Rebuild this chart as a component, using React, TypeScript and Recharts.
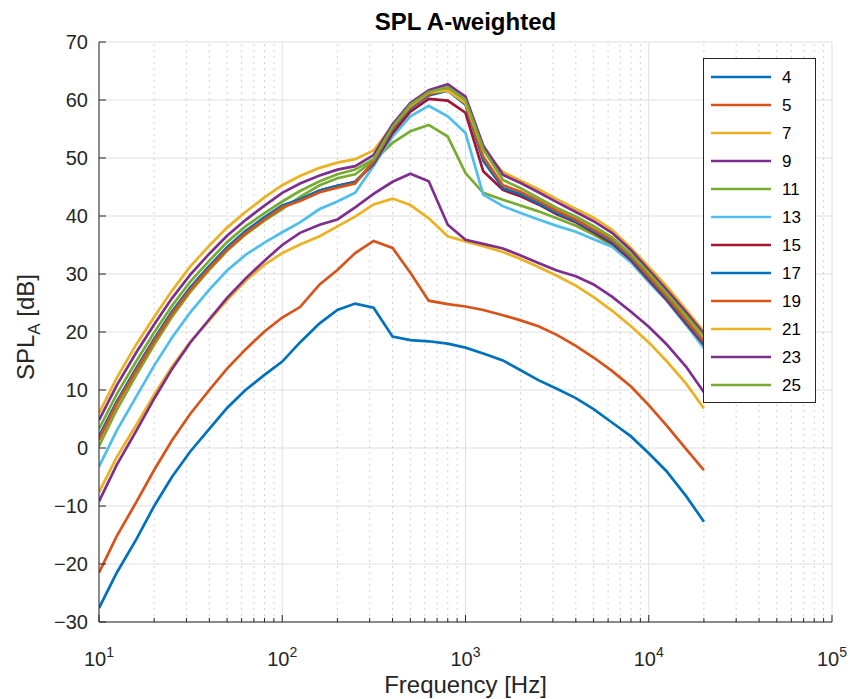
import React from 'react';
import { LineChart, Line, XAxis, YAxis, CartesianGrid, ReferenceLine } from 'recharts';

// Third-octave band centre frequencies [Hz]
const FREQ = [10, 12.5, 16, 20, 25, 31.5, 40, 50, 63, 80, 100, 125, 160, 200, 250, 315, 400, 500, 630, 800, 1000, 1250, 1600, 2000, 2500, 3150, 4000, 5000, 6300, 8000, 10000, 12500, 16000, 20000];

// A-weighted SPL per series [dB]
const S4 = [-27.6, -21.5, -15.7, -10.0, -5.0, -0.6, 3.3, 6.9, 10.0, 12.6, 14.9, 18.2, 21.5, 23.8, 24.9, 24.2, 19.2, 18.6, 18.4, 18.0, 17.3, 16.3, 15.1, 13.4, 11.7, 10.2, 8.6, 6.7, 4.4, 2.0, -0.9, -4.0, -8.3, -12.7];
const S5 = [-21.5, -15.2, -9.3, -3.8, 1.3, 5.9, 10.0, 13.7, 17.0, 20.1, 22.5, 24.3, 28.2, 30.7, 33.6, 35.7, 34.5, 30.2, 25.4, 24.8, 24.4, 23.8, 22.9, 22.0, 21.0, 19.5, 17.6, 15.6, 13.3, 10.6, 7.4, 3.9, -0.2, -3.8];
const S7 = [-7.6, -1.6, 4.0, 9.2, 14.0, 18.3, 22.0, 25.5, 28.8, 31.6, 33.6, 35.1, 36.5, 38.2, 39.9, 42.0, 43.0, 41.9, 39.6, 36.5, 35.6, 34.8, 33.8, 32.6, 31.2, 29.7, 28.0, 26.0, 23.7, 21.0, 18.2, 15.0, 11.1, 6.8];
const S9 = [-9.2, -2.9, 3.0, 8.5, 13.6, 18.2, 22.2, 25.9, 29.2, 32.3, 35.0, 37.1, 38.5, 39.4, 41.5, 43.8, 45.9, 47.3, 46.0, 38.5, 35.9, 35.2, 34.4, 33.2, 31.9, 30.6, 29.6, 28.2, 26.1, 23.5, 20.9, 17.9, 14.0, 9.6];
const S11 = [0.3, 6.6, 12.6, 17.8, 22.6, 26.9, 30.7, 34.0, 36.8, 39.2, 41.2, 43.3, 45.3, 46.5, 47.2, 49.5, 52.6, 54.6, 55.7, 53.7, 47.4, 44.0, 42.8, 41.8, 40.8, 39.6, 38.3, 36.8, 35.0, 32.3, 29.0, 25.7, 21.6, 17.7];
const S13 = [-3.2, 3.0, 8.9, 14.2, 19.0, 23.4, 27.3, 30.6, 33.3, 35.4, 37.2, 38.9, 41.2, 42.5, 44.0, 48.6, 53.7, 57.2, 59.0, 57.2, 54.3, 43.7, 41.7, 40.5, 39.4, 38.3, 37.3, 36.0, 34.7, 32.0, 28.6, 25.4, 21.2, 17.2];
const S15 = [1.9, 7.9, 13.7, 18.7, 23.4, 27.6, 31.3, 34.5, 37.3, 39.7, 41.7, 42.8, 44.4, 45.2, 45.9, 49.0, 54.3, 58.0, 60.2, 59.9, 57.8, 47.7, 44.5, 43.4, 42.0, 40.3, 38.9, 37.2, 35.3, 32.4, 29.0, 25.6, 21.5, 17.8];
const S17 = [2.0, 8.0, 13.8, 18.8, 23.5, 27.7, 31.4, 34.6, 37.4, 39.8, 41.8, 42.9, 44.4, 45.2, 45.8, 49.2, 55.0, 58.6, 60.8, 61.6, 59.2, 49.5, 44.8, 43.8, 42.2, 40.5, 39.1, 37.4, 35.6, 32.7, 29.3, 25.9, 21.8, 18.1];
const S19 = [1.4, 7.6, 13.4, 18.4, 23.1, 27.3, 31.0, 34.2, 37.0, 39.4, 41.5, 42.6, 44.1, 44.9, 45.6, 49.4, 55.2, 58.8, 61.0, 61.8, 59.4, 50.2, 45.3, 44.2, 42.6, 40.9, 39.4, 37.7, 35.9, 33.0, 29.6, 26.2, 22.1, 18.4];
const S21 = [6.0, 12.1, 17.9, 22.6, 27.1, 31.3, 34.9, 38.0, 40.7, 43.2, 45.3, 46.9, 48.3, 49.2, 49.8, 51.3, 55.6, 59.0, 61.3, 61.6, 59.5, 51.3, 47.6, 46.1, 44.6, 42.9, 41.2, 39.7, 37.6, 34.5, 31.2, 27.9, 23.8, 20.1];
const S23 = [4.8, 10.8, 16.5, 21.3, 25.8, 29.9, 33.5, 36.6, 39.3, 41.8, 44.0, 45.6, 47.0, 48.0, 48.6, 50.5, 55.8, 59.5, 61.7, 62.7, 60.6, 52.1, 47.1, 45.7, 44.1, 42.4, 40.7, 39.1, 37.1, 34.1, 30.7, 27.3, 23.4, 19.7];
const S25 = [3.3, 9.3, 15.0, 19.9, 24.5, 28.7, 32.3, 35.5, 38.2, 40.5, 42.5, 44.3, 46.0, 47.2, 48.0, 49.8, 55.4, 59.2, 61.4, 62.2, 60.0, 51.5, 46.2, 44.8, 43.1, 41.4, 39.9, 38.25, 36.3, 33.4, 30.2, 26.7, 22.8, 19.2];

const SERIES_NAMES = ['4', '5', '7', '9', '11', '13', '15', '17', '19', '21', '23', '25'];
const SERIES_VALUES = [S4, S5, S7, S9, S11, S13, S15, S17, S19, S21, S23, S25];
const SERIES_COLORS = ['#0072BD', '#D95319', '#EDB120', '#7E2F8E', '#77AC30', '#4DBEEE', '#A2142F', '#0072BD', '#D95319', '#EDB120', '#7E2F8E', '#77AC30'];

const X_MAJOR = [10, 100, 1000, 10000, 100000];
const X_MAJOR_EXP = ['1', '2', '3', '4', '5'];
const X_MINOR = [20, 30, 40, 50, 60, 70, 80, 90, 200, 300, 400, 500, 600, 700, 800, 900, 2000, 3000, 4000, 5000, 6000, 7000, 8000, 9000, 20000, 30000, 40000, 50000, 60000, 70000, 80000, 90000];
const Y_TICKS = [-30, -20, -10, 0, 10, 20, 30, 40, 50, 60, 70];
const Y_TICK_LABELS = ['\u221230', '\u221220', '\u221210', '0', '10', '20', '30', '40', '50', '60', '70'];

const FONT = '"Liberation Sans", Arial, Helvetica, sans-serif';
const AXIS = '#262626';

const rows = FREQ.map((f, i) => {
  const r: Record<string, number> = { f };
  SERIES_NAMES.forEach((n, k) => { r['s' + n] = SERIES_VALUES[k][i]; });
  return r;
});

const X_ALL = [...X_MAJOR, ...X_MINOR].sort((a, b) => a - b);

function XTick(props: any) {
  const { x, y, payload } = props;
  const idx = X_MAJOR.indexOf(payload.value);
  if (idx < 0) {
    return <line x1={x} x2={x} y1={y} y2={y - 4} stroke={AXIS} strokeWidth={1} />;
  }
  return (
    <g>
      <line x1={x} x2={x} y1={y} y2={y - 7} stroke={AXIS} strokeWidth={1} />
      <text x={x} y={y + 44} textAnchor="middle" fill={AXIS} fontSize={20} fontFamily={FONT}>
        10<tspan dy={-9} fontSize={14}>{X_MAJOR_EXP[idx]}</tspan>
      </text>
    </g>
  );
}

function YTick(props: any) {
  const { x, y, payload } = props;
  const idx = Y_TICKS.indexOf(payload.value);
  return (
    <g>
      <line x1={x} x2={x + 7} y1={y} y2={y} stroke={AXIS} strokeWidth={1} />
      <text x={x - 11} y={y} dy="0.36em" textAnchor="end" fill={AXIS} fontSize={20} fontFamily={FONT}>
        {idx >= 0 ? Y_TICK_LABELS[idx] : payload.value}
      </text>
    </g>
  );
}

export default function App() {
  return (
    <div style={{ position: 'absolute', left: 0, top: 0, width: 850, height: 699, background: '#fff' }}>
      <div style={{ position: 'absolute', left: 99, top: 10, width: 733, textAlign: 'center', fontFamily: FONT, fontWeight: 'bold', fontSize: 24, lineHeight: '24px', color: '#000' }}>
        SPL A-weighted
      </div>
      <LineChart width={850} height={699} data={rows} margin={{ top: 42, right: 18, bottom: 17, left: 39 }}>
        <CartesianGrid vertical={false} stroke="#dfdfdf" strokeWidth={1} />
        {X_MINOR.map((f) => (
          <ReferenceLine key={'m' + f} x={f} stroke="#c4c4c4" strokeWidth={1} strokeDasharray="1.5 4.5" />
        ))}
        {X_MAJOR.map((f) => (
          <ReferenceLine key={'M' + f} x={f} stroke="#dfdfdf" strokeWidth={1} />
        ))}
        <XAxis
          dataKey="f"
          type="number"
          scale="log"
          domain={[10, 100000]}
          allowDataOverflow
          ticks={X_ALL}
          interval={0}
          tick={<XTick />}
          tickLine={false}
          tickSize={0}
          tickMargin={0}
          height={60}
          axisLine={{ stroke: AXIS, strokeWidth: 1 }}
          label={() => (
            <text x={465.5} y={693} textAnchor="middle" fill={AXIS} fontSize={24} fontFamily={FONT}>Frequency [Hz]</text>
          )}
        />
        <YAxis
          type="number"
          domain={[-30, 70]}
          ticks={Y_TICKS}
          interval={0}
          tick={<YTick />}
          tickLine={false}
          tickSize={0}
          tickMargin={0}
          width={60}
          axisLine={{ stroke: AXIS, strokeWidth: 1 }}
          label={() => (
            <text transform="translate(34,327) rotate(-90)" textAnchor="middle" fill={AXIS} fontSize={24} fontFamily={FONT}>
              SPL<tspan dy={6} fontSize={17}>A</tspan><tspan dy={-6}> [dB]</tspan>
            </text>
          )}
        />
        {SERIES_NAMES.map((n, k) => (
          <Line
            key={n}
            type="linear"
            dataKey={'s' + n}
            stroke={SERIES_COLORS[k]}
            strokeWidth={2.7}
            dot={false}
            activeDot={false}
            isAnimationActive={false}
          />
        ))}
      </LineChart>
      <svg style={{ position: 'absolute', left: 703, top: 58 }} width={113} height={345}>
        <rect x={0.5} y={0.5} width={112} height={344} fill="#fff" stroke={AXIS} strokeWidth={1} />
        {SERIES_NAMES.map((n, k) => (
          <g key={n}>
            <line x1={8} x2={68} y1={19 + 28 * k} y2={19 + 28 * k} stroke={SERIES_COLORS[k]} strokeWidth={2.7} />
            <text x={79} y={19 + 28 * k + 6} fontSize={17} fontFamily={FONT} fill="#000">{n}</text>
          </g>
        ))}
      </svg>
    </div>
  );
}
